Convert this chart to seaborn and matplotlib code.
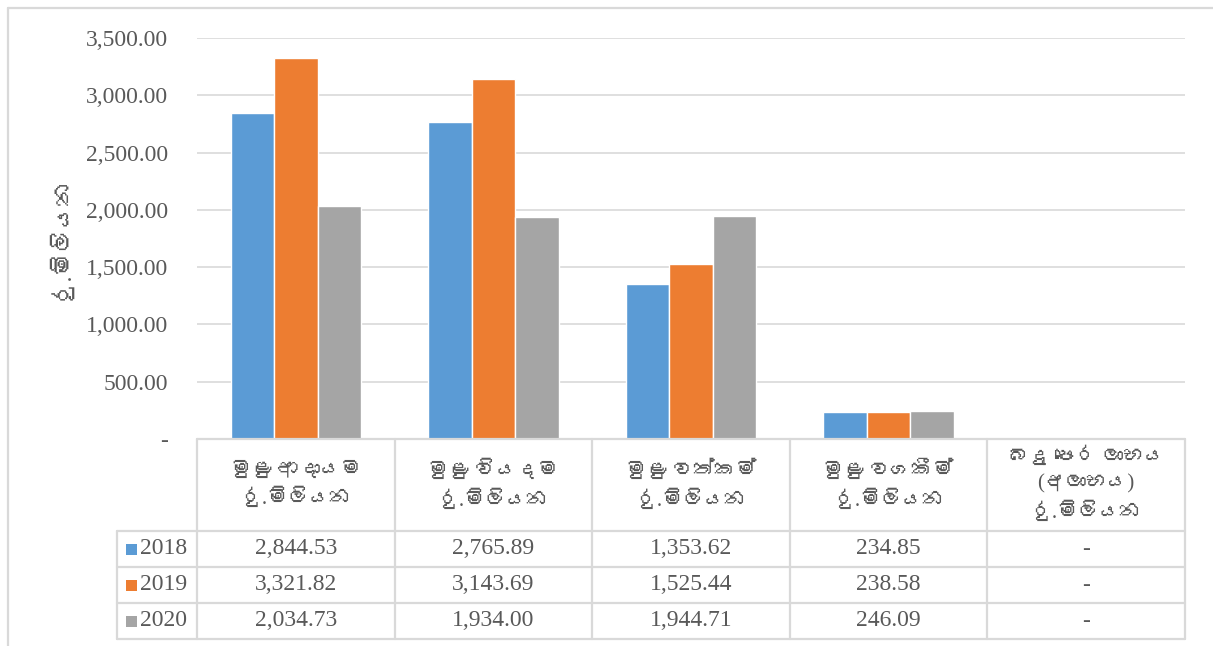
import numpy as np
import pandas as pd
import matplotlib
matplotlib.use("Agg")
import matplotlib.pyplot as plt
import seaborn as sns
from matplotlib import font_manager, transforms
from matplotlib.lines import Line2D
from matplotlib.patches import Rectangle
from matplotlib.ticker import FuncFormatter

# ---- data ----
categories = [
    "මුළු ආදායම\nරු.මිලියන",
    "මුළු වියදම\nරු.මිලියන",
    "මුළු වත්කම්\nරු.මිලියන",
    "මුළු වගකීම්\nරු.මිලියන",
    "බදු පෙර ලාභය\n(අලාභය)\nරු.මිලියන",
]
years = ["2018", "2019", "2020"]
vals_2018 = [2844.53, 2765.89, 1353.62, 234.85, np.nan]
vals_2019 = [3321.82, 3143.69, 1525.44, 238.58, np.nan]
vals_2020 = [2034.73, 1934.00, 1944.71, 246.09, np.nan]
colors = ["#5B9BD5", "#ED7D31", "#A5A5A5"]
y_label = "රු.මිලියන"
y_ticks = [0, 500, 1000, 1500, 2000, 2500, 3000, 3500]

series = dict(zip(years, [vals_2018, vals_2019, vals_2020]))
df = pd.DataFrame(
    [(c, y, v) for y, vals in series.items() for c, v in zip(categories, vals)],
    columns=["category", "year", "value"],
)


def find_sinhala_font():
    try:
        from fontTools.ttLib import TTFont
    except Exception:
        return None
    for f in font_manager.fontManager.ttflist:
        try:
            cmap = TTFont(f.fname, fontNumber=0, lazy=True).getBestCmap()
        except Exception:
            continue
        if cmap and 0x0DB8 in cmap:
            return f.name
    return None


sns.set_style("white")
sinhala = find_sinhala_font()
families = ["Liberation Serif"] + ([sinhala] if sinhala else []) + ["DejaVu Serif"]
plt.rcParams["font.family"] = families

TXT = "#595959"
GRID = "#D9D9D9"
W, H = 1213, 646

fig = plt.figure(figsize=(W / 100, H / 100), dpi=100)
ax = fig.add_axes([197 / W, 1 - 439 / H, 988 / W, 401 / H])

sns.barplot(
    data=df.dropna(), x="category", y="value", hue="year",
    order=categories, hue_order=years, palette=colors,
    width=0.66, gap=0, legend=False, ax=ax, errorbar=None, saturation=1,
)

ax.set_ylim(0, 3500)
ax.set_xlim(-0.5, len(categories) - 0.5)
ax.set_yticks(y_ticks)
ax.yaxis.set_major_formatter(FuncFormatter(lambda v, _: "-" if v == 0 else f"{v:,.2f}"))
ax.tick_params(axis="y", length=0, pad=21, labelsize=17, labelcolor=TXT)
ax.set_xticks([])
ax.set_xlabel("")
ax.set_ylabel(y_label, fontsize=17, color=TXT)
ax.yaxis.set_label_coords(-0.126, 0.5)
ax.grid(axis="y", color=GRID, linewidth=1.2)
ax.set_axisbelow(True)
for s in ax.spines.values():
    s.set_visible(False)

# ---- data table below the plot ----
pix = transforms.Affine2D().scale(1 / W, -1 / H).translate(0, 1) + fig.transFigure
tr = transforms.blended_transform_factory(ax.transData, pix)
top = 439
header_h = 92
row_h = 36
left_x = -0.5 - 80 / (988 / len(categories))
n = len(categories)
line_kw = dict(color=GRID, linewidth=1.6, transform=tr, clip_on=False)

bottom = top + header_h + row_h * len(years)
fig.add_artist(Line2D([-0.5, n - 0.5], [top, top], **line_kw))
for i in range(len(years) + 1):
    y = top + header_h + row_h * i
    fig.add_artist(Line2D([left_x, n - 0.5], [y, y], **line_kw))
for k in range(n + 1):
    fig.add_artist(Line2D([k - 0.5, k - 0.5], [top, bottom], **line_kw))
fig.add_artist(Line2D([left_x, left_x], [top + header_h, bottom], **line_kw))

for k, c in enumerate(categories):
    fig.text(k, top + header_h / 2, c, transform=tr, ha="center", va="center",
             fontsize=15, color=TXT, linespacing=1.5)

for i, (yr, vals) in enumerate(series.items()):
    yc = top + header_h + row_h * (i + 0.5)
    fig.add_artist(Rectangle((left_x + 0.046, yc - 5.5), 0.056, 11,
                             transform=tr, facecolor=colors[i], edgecolor="none"))
    fig.text(left_x + 0.115, yc, yr, transform=tr, ha="left", va="center",
             fontsize=17, color=TXT)
    for k, v in enumerate(vals):
        s = "-" if np.isnan(v) else f"{v:,.2f}"
        fig.text(k, yc, s, transform=tr, ha="center", va="center",
                 fontsize=17, color=TXT)

# outer frame
fig.add_artist(Line2D([8 / W, 8 / W], [0, 1 - 8 / H], color=GRID, linewidth=1.6,
                      transform=fig.transFigure))
fig.add_artist(Line2D([8 / W, 1], [1 - 8 / H, 1 - 8 / H], color=GRID, linewidth=1.6,
                      transform=fig.transFigure))

fig.savefig("out.png", dpi=100, facecolor="white")
